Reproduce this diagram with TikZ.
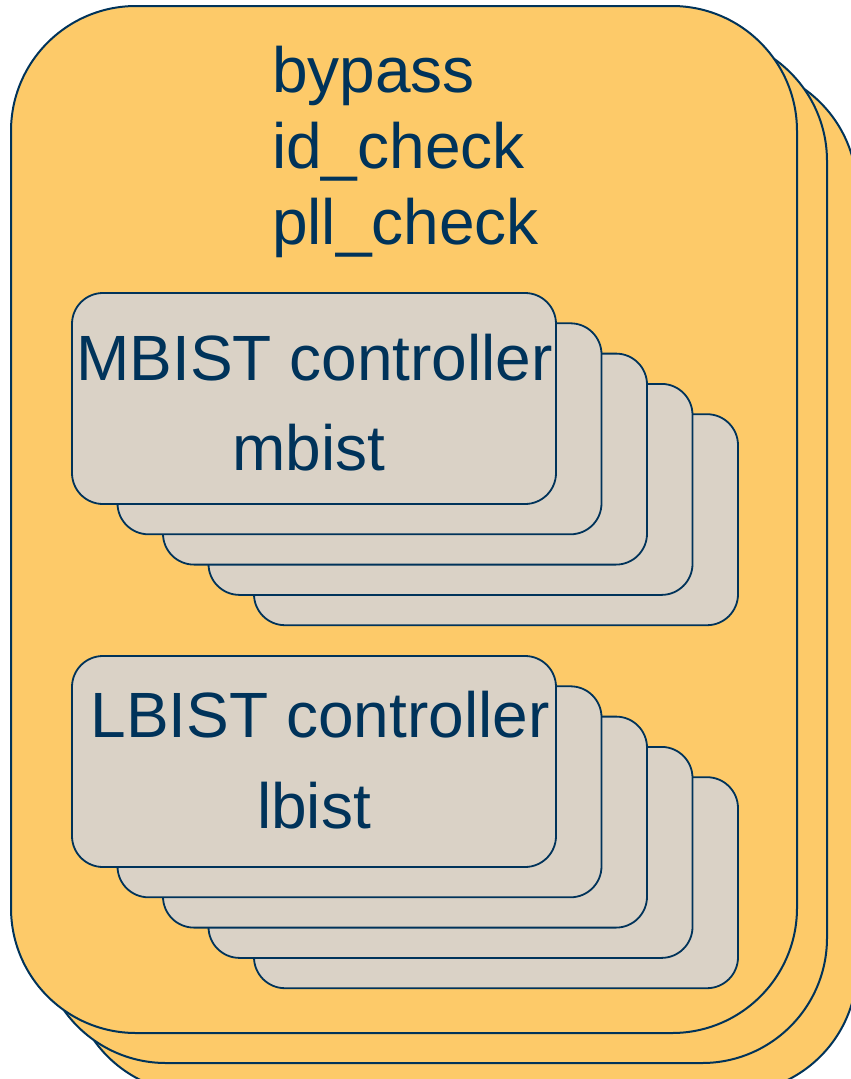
\documentclass[tikz,border=0pt]{standalone}
\usepackage{fontspec}
\setmainfont{Liberation Sans}
\definecolor{panel}{HTML}{FDCA69}
\definecolor{unit}{HTML}{DAD2C6}
\definecolor{ink}{HTML}{00335A}
\begin{document}
\begin{tikzpicture}[x=1pt,y=-1pt,
  panelbox/.style={draw=ink,fill=panel,line width=2pt,rounded corners=125pt,
    minimum width=786pt,minimum height=1027pt,inner sep=0pt,outer sep=0pt,anchor=north west},
  unitbox/.style={draw=ink,fill=unit,line width=1.8pt,rounded corners=31pt,
    minimum width=484pt,minimum height=211pt,inner sep=0pt,outer sep=0pt,anchor=north west},
  txt/.style={text=ink,font=\fontsize{64}{76}\selectfont,inner sep=0pt}]
\useasboundingbox (0,0) rectangle (851,1079);
\clip (0,0) rectangle (851,1079);
% stacked outer panels, back to front
\foreach \i in {2,1,0}
  \node[panelbox] (p\i) at ({11+30*\i},{6+30*\i}) {};
% signal names
\node[txt,anchor=base west] (t1) at (272,92) {bypass};
\node[txt,anchor=base west] (t2) at (272,168) {id\_check};
\node[txt,anchor=base west] (t3) at (272,244) {pll\_check};
% MBIST controller stack
\foreach \i in {4,3,2,1,0}
  \node[unitbox] (m\i) at ({72+45.5*\i},{293+30.3*\i}) {};
\node[txt,anchor=base] (mt1) at (314.5,380) {MBIST controller};
\node[txt,anchor=base] (mt2) at (309,470) {mbist};
% LBIST controller stack
\foreach \i in {4,3,2,1,0}
  \node[unitbox] (l\i) at ({72+45.5*\i},{656+30.3*\i}) {};
\node[txt,anchor=base] (lt1) at (320,737) {LBIST controller};
\node[txt,anchor=base] (lt2) at (314,828) {lbist};
\end{tikzpicture}
\end{document}
